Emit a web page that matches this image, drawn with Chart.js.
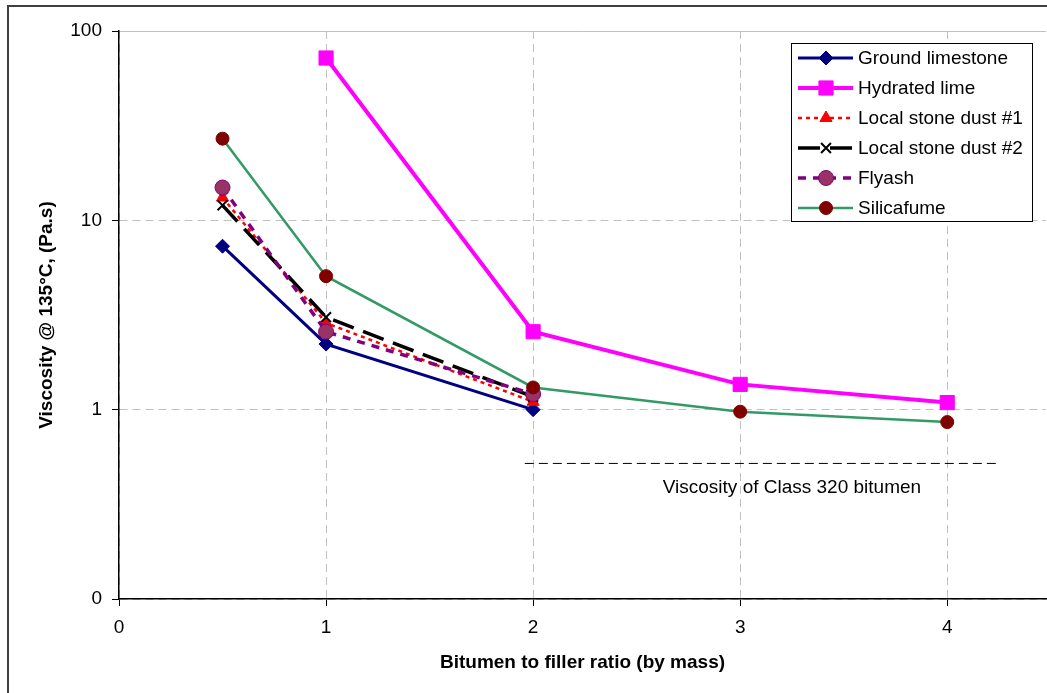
<!DOCTYPE html>
<html>
<head>
<meta charset="utf-8">
<script src="https://cdn.jsdelivr.net/npm/chart.js@4.4.0/dist/chart.umd.min.js"></script>
<style>
  html, body { margin: 0; padding: 0; background: #fff; overflow: hidden; }
  #wrap { position: relative; width: 1047px; height: 693px; overflow: hidden; }
  #moldura { position: absolute; left: 7px; top: 5px; width: 1100px; height: 800px; border: 2px solid #404040; }
  #grafico { position: absolute; left: 0; top: 0; }
</style>
</head>
<body>
<div id="wrap">
  <div id="moldura"></div>
  <canvas id="grafico" width="1057" height="693"></canvas>
</div>
<script>
'use strict';
// DADOS DO GRAFICO
const xTicks = [0, 1, 2, 3, 4];
const yTicks = [0.1, 1, 10, 100];
const yTickLabels = ['0', '1', '10', '100'];

const series = ['Ground limestone', 'Hydrated lime', 'Local stone dust #1', 'Local stone dust #2', 'Flyash', 'Silicafume'];

const groundX = [0.5, 1, 2];
const groundY = [7.3, 2.22, 1.0];

const hydratedX = [1, 2, 3, 4];
const hydratedY = [72, 2.58, 1.36, 1.09];

const stone1X = [0.5, 1, 2];
const stone1Y = [13.2, 2.87, 1.10];

const stone2X = [0.5, 1, 2];
const stone2Y = [12.0, 3.08, 1.17];

const flyashX = [0.5, 1, 2];
const flyashY = [14.9, 2.58, 1.21];

const silicaX = [0.5, 1, 2, 3, 4];
const silicaY = [27, 5.07, 1.31, 0.976, 0.86];

const class320X = [1.96, 4.24];
const class320Y = [0.52, 0.52];
const class320Label = 'Viscosity of Class 320 bitumen';

const pts = (xs, ys) => xs.map((x, i) => ({x: x, y: ys[i]}));

const fonte = 'Liberation Sans, Arial, sans-serif';
Chart.defaults.font.family = fonte;
Chart.defaults.color = '#000';

// legenda estilo excel
const legendaExcel = {
    id: 'legendaExcel',
    afterDraw(chart) {
        const c = chart.ctx;
        const area = chart.chartArea;
        const bx = area.right - 255, by = area.top + 12;
        c.save();
        c.fillStyle = '#fff';
        c.fillRect(bx, by, 241, 178);
        c.strokeStyle = '#000';
        c.lineWidth = 1;
        c.strokeRect(bx + 0.5, by + 0.5, 241, 178);
        series.forEach((nome, i) => {
            const ds = chart.data.datasets[i];
            const y = by + 15 + i * 30;
            c.beginPath();
            c.setLineDash(ds.borderDash || []);
            c.strokeStyle = ds.borderColor;
            c.lineWidth = ds.borderWidth;
            c.moveTo(bx + 7, y);
            c.lineTo(bx + 62, y);
            c.stroke();
            c.setLineDash([]);
            c.fillStyle = ds.pointBackgroundColor;
            c.strokeStyle = ds.pointBorderColor;
            c.lineWidth = ds.pointBorderWidth;
            Chart.helpers.drawPoint(c, {pointStyle: ds.pointStyle, radius: ds.pointRadius, borderWidth: ds.pointBorderWidth, rotation: 0}, bx + 35, y);
            c.fillStyle = '#000';
            c.font = '19px ' + fonte;
            c.textBaseline = 'middle';
            c.textAlign = 'left';
            c.fillText(nome, bx + 67, y + 1);
        });
        // texto da linha de referencia
        const xs = chart.scales.x, ys = chart.scales.y;
        c.fillStyle = '#000';
        c.font = '19px ' + fonte;
        c.textAlign = 'center';
        c.textBaseline = 'middle';
        c.fillText(class320Label, xs.getPixelForValue(3.25), ys.getPixelForValue(class320Y[0]) + 24);
        c.restore();
    }
};

const ctx = document.getElementById('grafico').getContext('2d');
const grafico = new Chart(ctx, {
    type: 'line',
    plugins: [legendaExcel],
    data: {
        datasets: [
            {
                label: series[0], data: pts(groundX, groundY), order: 6,
                borderColor: '#000080', borderWidth: 3,
                pointStyle: 'rectRot', pointRadius: 7, pointBackgroundColor: '#000080', pointBorderColor: '#000080', pointBorderWidth: 1
            },
            {
                label: series[1], data: pts(hydratedX, hydratedY), order: 5,
                borderColor: '#ff00ff', borderWidth: 4,
                pointStyle: 'rect', pointRadius: 10, pointBackgroundColor: '#ff00ff', pointBorderColor: '#ff00ff', pointBorderWidth: 1
            },
            {
                label: series[2], data: pts(stone1X, stone1Y), order: 4,
                borderColor: '#ff0000', borderWidth: 2.5, borderDash: [4, 4],
                pointStyle: 'triangle', pointRadius: 7, pointBackgroundColor: '#ff0000', pointBorderColor: '#ff0000', pointBorderWidth: 1
            },
            {
                label: series[3], data: pts(stone2X, stone2Y), order: 3,
                borderColor: '#000000', borderWidth: 3.5, borderDash: [22, 10],
                pointStyle: 'crossRot', pointRadius: 7, pointBackgroundColor: '#000000', pointBorderColor: '#000000', pointBorderWidth: 2
            },
            {
                label: series[4], data: pts(flyashX, flyashY), order: 2,
                borderColor: '#800080', borderWidth: 3.5, borderDash: [8, 7],
                pointStyle: 'circle', pointRadius: 7.5, pointBackgroundColor: '#993366', pointBorderColor: '#800080', pointBorderWidth: 1
            },
            {
                label: series[5], data: pts(silicaX, silicaY), order: 1,
                borderColor: '#339966', borderWidth: 2.5,
                pointStyle: 'circle', pointRadius: 6.5, pointBackgroundColor: '#800000', pointBorderColor: '#800000', pointBorderWidth: 1
            },
            {
                label: class320Label, data: pts(class320X, class320Y), order: 7,
                borderColor: '#000000', borderWidth: 1, borderDash: [9, 5],
                pointRadius: 0
            }
        ]
    },
    options: {
        responsive: false,
        animation: false,
        events: [],
        layout: { padding: { top: 31, left: 0, right: 0, bottom: 0 } },
        elements: { line: { tension: 0, fill: false } },
        plugins: {
            legend: { display: false },
            tooltip: { enabled: false }
        },
        scales: {
            x: {
                type: 'linear',
                min: 0,
                max: 4.477,
                afterBuildTicks: (s) => { s.ticks = xTicks.map(v => ({value: v})); },
                afterFit: (s) => { s.height = 94; },
                grid: { color: '#c0c0c0', lineWidth: 1, tickLength: 7, tickColor: '#000', tickWidth: 1, tickBorderDash: [] },
                border: { display: true, color: '#000', width: 1.5, dash: [8, 5] },
                ticks: { color: '#000', font: { size: 19 }, padding: 10, maxRotation: 0 },
                title: {
                    display: true,
                    text: 'Bitumen to filler ratio (by mass)',
                    color: '#000',
                    font: { size: 19, weight: 'bold' },
                    padding: { top: 0, bottom: 19 }
                }
            },
            y: {
                type: 'logarithmic',
                min: 0.1,
                max: 100,
                afterBuildTicks: (s) => { s.ticks = yTicks.map(v => ({value: v})); },
                afterFit: (s) => { s.width = 119; },
                grid: { color: '#c0c0c0', lineWidth: 1, tickLength: 7, tickColor: '#000', tickWidth: 1, tickBorderDash: [] },
                border: {
                    display: true, color: '#000', width: 1.5,
                    dash: (c) => (c.tick && c.tick.value === 100) ? [] : [8, 5]
                },
                ticks: {
                    color: '#000',
                    font: { size: 19 },
                    padding: 10,
                    callback: (v) => {
                        const i = yTicks.indexOf(v);
                        return i >= 0 ? yTickLabels[i] : '';
                    }
                },
                title: {
                    display: true,
                    text: 'Viscosity @ 135°C, (Pa.s)',
                    color: '#000',
                    font: { size: 19, weight: 'bold' },
                    padding: { top: 35, bottom: 0 }
                }
            }
        }
    }
});
</script>
</body>
</html>
